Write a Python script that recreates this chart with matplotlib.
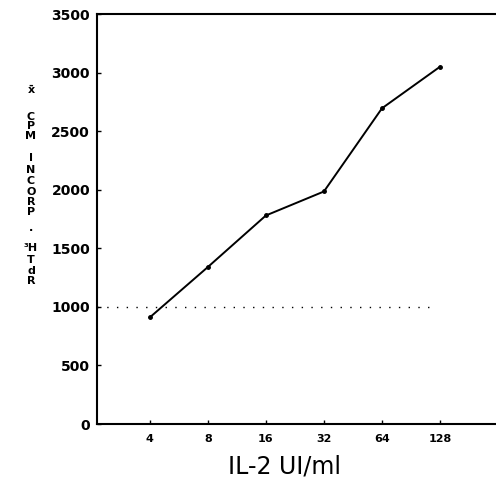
import numpy as np
import matplotlib.pyplot as plt

# IL-2 dose (UI/ml) vs 3H-TdR incorporation
doses = ['4', '8', '16', '32', '64', '128']
cpm = [910, 1340, 1780, 1985, 2695, 3050]
baseline = 1000
yticks = [0, 500, 1000, 1500, 2000, 2500, 3000, 3500]

W, H = 496, 487
fig = plt.figure(figsize=(W / 100, H / 100), dpi=100)
ax = fig.add_axes([97 / W, 1 - 424 / H, 1 - 97 / W + 0.01, (424 - 14) / H])

x = np.arange(1, len(doses) + 1)
ax.plot(x, cpm, color='black', lw=1.4, marker='o', ms=2.5)
ax.hlines(baseline, 0.09, 5.9, color='black', lw=1.0, linestyles=(0, (1, 6)))

ax.set_xlim(0.09, 7.05)
ax.set_ylim(0, 3500)
ax.set_xticks(x)
ax.set_xticklabels(doses, fontsize=8, fontweight='bold')
ax.set_yticks(yticks)
ax.set_yticklabels([str(v) for v in yticks], fontsize=10, fontweight='bold')
ax.tick_params(direction='in', length=3, width=1, pad=5)
ax.tick_params(axis='x', pad=7)
for s in ['left', 'bottom', 'top']:
    ax.spines[s].set_linewidth(1.5)
ax.spines['right'].set_visible(False)

fig.text(284 / W, 1 - 466 / H, 'IL-2 UI/ml', ha='center', va='center',
         fontsize=17, family='DejaVu Sans')

# stacked y-axis label
ylab = [('x\u0304', 90), ('C', 117), ('P', 126), ('M', 136),
        ('I', 158), ('N', 170), ('C', 181), ('O', 192), ('R', 202), ('P', 212),
        ('.', 228), ('\u00b3H', 248), ('T', 260), ('d', 271), ('R', 281)]
for ch, yp in ylab:
    fig.text(31 / W, 1 - yp / H, ch, ha='center', va='center',
             fontsize=8, fontweight='bold')

fig.savefig('out.png', dpi=100)
